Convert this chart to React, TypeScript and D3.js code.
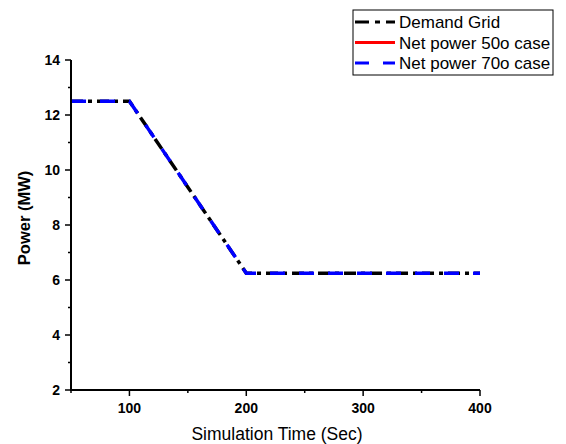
import React from "react";
import * as d3 from "d3";

const timeSec = [50, 100, 200, 400];
const demandGrid = [12.5, 12.5, 6.25, 6.25];
const netPower70 = [12.5, 12.5, 6.25, 6.25];
const xTicks = [100, 200, 300, 400];
const xMinor = [50, 150, 250, 350];
const yTicks = [2, 4, 6, 8, 10, 12, 14];
const yMinor = [3, 5, 7, 9, 11, 13];
const legendLabels = ["Demand Grid", "Net power 50o case", "Net power 70o case"];

const W = 566, H = 444;
const L = 71, R = 480, T = 60, B = 390;

export default function App() {
  const x = d3.scaleLinear().domain([50, 400]).range([L, R]);
  const y = d3.scaleLinear().domain([2, 14]).range([B, T]);
  const line = d3.line<number>().x((_, i) => x(timeSec[i])).y((d) => y(d));
  const font = "Arial, 'Liberation Sans', sans-serif";
  const legendStyles = [
    { stroke: "#000", dash: "14,6,5,6" },
    { stroke: "#ff0000", dash: "none" },
    { stroke: "#0000ff", dash: "14,14" },
  ];
  return (
    <svg width={W} height={H} style={{ position: "absolute", left: 0, top: 0 }} fontFamily={font}>
      <rect width={W} height={H} fill="#fff" />
      <path d={line(demandGrid) || ""} fill="none" stroke="#000" strokeWidth={3.5} strokeDasharray="12,5,4,5" />
      <path d={line(netPower70) || ""} fill="none" stroke="#0000ff" strokeWidth={3.5} strokeDasharray="15,14" />
      {/* axes */}
      <line x1={L} x2={L} y1={T} y2={B + 1} stroke="#000" strokeWidth={2} />
      <line x1={L - 1} x2={R} y1={B} y2={B} stroke="#000" strokeWidth={2} />
      {yTicks.map((t) => (
        <g key={"y" + t}>
          <line x1={L - 6} x2={L} y1={y(t)} y2={y(t)} stroke="#000" strokeWidth={1.5} />
          <text x={L - 11} y={y(t)} dy="0.35em" textAnchor="end" fontSize={14} fontWeight="bold">{t}</text>
        </g>
      ))}
      {yMinor.map((t) => (
        <line key={"ym" + t} x1={L - 3} x2={L} y1={y(t)} y2={y(t)} stroke="#000" strokeWidth={1.5} />
      ))}
      {xTicks.map((t) => (
        <g key={"x" + t}>
          <line x1={x(t)} x2={x(t)} y1={B} y2={B + 6} stroke="#000" strokeWidth={1.5} />
          <text x={x(t)} y={B + 23} textAnchor="middle" fontSize={14} fontWeight="bold">{t}</text>
        </g>
      ))}
      {xMinor.map((t) => (
        <line key={"xm" + t} x1={x(t)} x2={x(t)} y1={B} y2={B + 3} stroke="#000" strokeWidth={1.5} />
      ))}
      <text x={277} y={440} textAnchor="middle" fontSize={17.5}>Simulation Time (Sec)</text>
      <text transform={`translate(30, 218) rotate(-90)`} textAnchor="middle" fontSize={16.5} fontWeight="bold">Power (MW)</text>
      {/* legend */}
      <rect x={353} y={10} width={200} height={65} fill="#fff" stroke="#000" strokeWidth={1} />
      {legendLabels.map((lab, i) => (
        <g key={lab}>
          <line x1={355} x2={395} y1={22 + i * 20.5} y2={22 + i * 20.5} stroke={legendStyles[i].stroke} strokeWidth={3} strokeDasharray={legendStyles[i].dash} />
          <text x={399} y={22 + i * 20.5} dy="0.36em" fontSize={17}>{lab}</text>
        </g>
      ))}
    </svg>
  );
}
